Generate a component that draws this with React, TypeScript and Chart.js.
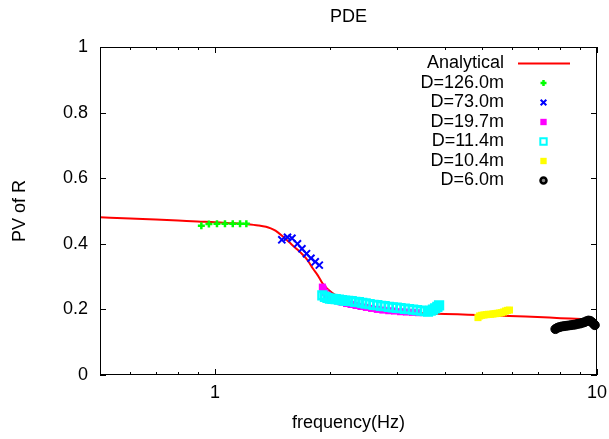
import React, { useEffect, useRef } from 'react';
import { Chart, registerables } from 'chart.js';

Chart.register(...registerables);

// ---------- data ----------
const chartTitle = 'PDE';
const xTitle = 'frequency(Hz)';
const yTitle = 'PV of R';

const xMajorTicks = [1, 10];
const xMinorTicks = [0.6, 0.7, 0.8, 0.9, 2, 3, 4, 5, 6, 7, 8, 9];

const analyticFreq = [0.5, 0.6, 0.7, 0.8, 0.9, 1.0, 1.1, 1.2, 1.3, 1.36, 1.4, 1.44, 1.5, 1.56, 1.63, 1.69, 1.73, 1.77, 1.8, 1.86, 1.91, 1.97, 2.03, 2.1, 2.2, 2.3, 2.45, 2.6, 2.8, 3.0, 3.4, 4.0, 4.6, 5.5, 6.5, 7.5, 8.5, 9.3, 10.0];
const analyticPV = [0.481, 0.477, 0.474, 0.471, 0.468, 0.466, 0.463, 0.46, 0.456, 0.452, 0.447, 0.44, 0.424, 0.406, 0.386, 0.369, 0.356, 0.34, 0.326, 0.303, 0.28, 0.262, 0.25, 0.24, 0.229, 0.22, 0.211, 0.205, 0.199, 0.195, 0.189, 0.186, 0.184, 0.181, 0.178, 0.175, 0.172, 0.17, 0.167];

const d126Freq = [0.921, 0.964, 1.012, 1.062, 1.113, 1.163, 1.208];
const d126PV = [0.455, 0.46, 0.461, 0.461, 0.461, 0.461, 0.461];

const d73Freq = [1.496, 1.548, 1.59, 1.644, 1.689, 1.736, 1.783, 1.83, 1.875];
const d73PV = [0.412, 0.42, 0.417, 0.4, 0.385, 0.37, 0.356, 0.345, 0.335];

const d197Freq = [1.91, 1.92, 1.94, 1.97, 2.01, 2.05, 2.1, 2.15, 2.21, 2.27, 2.34, 2.41, 2.49, 2.57, 2.66, 2.75, 2.85, 2.95, 3.06, 3.17, 3.29, 3.41];
const d197PV = [0.268, 0.262, 0.252, 0.243, 0.236, 0.231, 0.226, 0.222, 0.218, 0.215, 0.212, 0.209, 0.206, 0.203, 0.2, 0.198, 0.196, 0.195, 0.193, 0.192, 0.191, 0.19];

const d114Freq = [1.91, 1.94, 1.97, 2.0, 2.03, 2.07, 2.11, 2.15, 2.19, 2.23, 2.28, 2.33, 2.38, 2.43, 2.48, 2.54, 2.6, 2.66, 2.72, 2.78, 2.85, 2.92, 2.99, 3.06, 3.14, 3.22, 3.3, 3.38, 3.46, 3.54, 3.61, 3.67, 3.72, 3.77, 3.82, 3.86];
const d114PV = [0.243, 0.238, 0.235, 0.233, 0.232, 0.231, 0.23, 0.228, 0.227, 0.226, 0.225, 0.223, 0.222, 0.22, 0.218, 0.216, 0.214, 0.213, 0.211, 0.21, 0.208, 0.206, 0.205, 0.204, 0.202, 0.201, 0.199, 0.198, 0.196, 0.195, 0.193, 0.196, 0.199, 0.203, 0.208, 0.212];

const d104Freq = [4.88, 4.93, 4.99, 5.06, 5.13, 5.2, 5.27, 5.34, 5.41, 5.48, 5.55, 5.62, 5.69, 5.76, 5.83, 5.9];
const d104PV = [0.175, 0.18, 0.182, 0.183, 0.184, 0.185, 0.185, 0.186, 0.187, 0.188, 0.189, 0.19, 0.192, 0.195, 0.197, 0.198];

const d60Freq = [7.78, 7.88, 7.98, 8.09, 8.2, 8.31, 8.43, 8.55, 8.67, 8.79, 8.91, 9.03, 9.15, 9.27, 9.39, 9.5, 9.6, 9.7, 9.8, 9.87];
const d60PV = [0.14, 0.144, 0.146, 0.148, 0.149, 0.15, 0.151, 0.152, 0.153, 0.154, 0.156, 0.157, 0.159, 0.161, 0.164, 0.166, 0.165, 0.161, 0.156, 0.152];

const seriesLabels = ['Analytical', 'D=126.0m', 'D=73.0m', 'D=19.7m', 'D=11.4m', 'D=10.4m', 'D=6.0m'];

const FONT = '"Liberation Sans", Arial, sans-serif';

const zip = (xs: number[], ys: number[]) => xs.map((x, i) => ({ x, y: ys[i] }));

function drawMarker(ctx: CanvasRenderingContext2D, ds: any, x: number, y: number, r: number) {
  const style = ds.pointStyle;
  ctx.save();
  ctx.lineWidth = ds.borderWidth;
  ctx.strokeStyle = ds.borderColor;
  ctx.fillStyle = ds.backgroundColor;
  ctx.beginPath();
  if (style === 'cross') {
    ctx.moveTo(x - r, y); ctx.lineTo(x + r, y);
    ctx.moveTo(x, y - r); ctx.lineTo(x, y + r);
    ctx.stroke();
  } else if (style === 'crossRot') {
    const d = r * Math.SQRT1_2;
    ctx.moveTo(x - d, y - d); ctx.lineTo(x + d, y + d);
    ctx.moveTo(x + d, y - d); ctx.lineTo(x - d, y + d);
    ctx.stroke();
  } else if (style === 'rect') {
    const s = r * Math.SQRT1_2;
    ctx.rect(x - s, y - s, 2 * s, 2 * s);
    ctx.fill();
    if (ds.borderWidth) {
      ctx.lineWidth = 2;
      ctx.stroke();
    }
  } else if (style === 'circle') {
    ctx.arc(x, y, r, 0, Math.PI * 2);
    ctx.fillStyle = '#888';
    ctx.fill();
    ctx.lineWidth = 2.5;
    ctx.stroke();
  }
  ctx.restore();
}

const legendSizes = [0, 3, 4, 4.5, 4.5, 4.5, 3];

const framePlugin = {
  id: 'gnuFrame',
  afterDatasetsDraw(chart: any) {
    const { ctx, chartArea, scales } = chart;
    const { left, right, top, bottom } = chartArea;
    const x = scales.x;
    const y = scales.y;
    ctx.save();
    ctx.strokeStyle = '#000';
    ctx.lineWidth = 1;
    ctx.beginPath();
    const xt = (v: number, len: number) => {
      const px = Math.round(x.getPixelForValue(v)) + 0.5;
      ctx.moveTo(px, bottom); ctx.lineTo(px, bottom - len);
      ctx.moveTo(px, top); ctx.lineTo(px, top + len);
    };
    xMajorTicks.forEach((v) => xt(v, 6));
    xMinorTicks.forEach((v) => xt(v, 3));
    y.ticks.forEach((t: any) => {
      const py = Math.round(y.getPixelForValue(t.value)) + 0.5;
      ctx.moveTo(left, py); ctx.lineTo(left + 6, py);
      ctx.moveTo(right, py); ctx.lineTo(right - 6, py);
    });
    ctx.stroke();
    ctx.strokeRect(Math.round(left) + 0.5, Math.round(top) + 0.5, Math.round(right - left) - 1, Math.round(bottom - top) - 1);
    ctx.restore();
  },
  afterDraw(chart: any) {
    const { ctx, chartArea } = chart;
    const { right, top } = chartArea;
    const textRight = right - 93;
    const markX = right - 53.5;
    ctx.save();
    ctx.font = `18px ${FONT}`;
    ctx.textAlign = 'right';
    ctx.textBaseline = 'middle';
    chart.data.datasets.forEach((ds: any, i: number) => {
      const yy = top + 16.5 + i * 19.5;
      ctx.fillStyle = '#000';
      ctx.fillText(ds.label, textRight, yy);
      if (ds.showLine) {
        ctx.strokeStyle = ds.borderColor;
        ctx.lineWidth = 2;
        ctx.beginPath();
        ctx.moveTo(right - 79, yy);
        ctx.lineTo(right - 27, yy);
        ctx.stroke();
      } else {
        drawMarker(ctx, ds, markX, yy, legendSizes[i]);
      }
    });
    ctx.restore();
  },
};

export default function App() {
  const ref = useRef<HTMLCanvasElement | null>(null);

  useEffect(() => {
    if (!ref.current) return;
    Chart.defaults.font.family = FONT;
    Chart.defaults.font.size = 18;
    Chart.defaults.color = '#000';

    const chart = new Chart(ref.current, {
      type: 'scatter',
      data: {
        datasets: [
          {
            label: seriesLabels[0],
            data: zip(analyticFreq, analyticPV),
            showLine: true,
            borderColor: '#ff0000',
            backgroundColor: '#ff0000',
            borderWidth: 2,
            pointRadius: 0,
            cubicInterpolationMode: 'monotone',
            order: 6,
          },
          {
            label: seriesLabels[1],
            data: zip(d126Freq, d126PV),
            pointStyle: 'cross',
            pointRadius: 3.5,
            borderWidth: 2.5,
            borderColor: '#00ff00',
            backgroundColor: '#00ff00',
            order: 5,
          },
          {
            label: seriesLabels[2],
            data: zip(d73Freq, d73PV),
            pointStyle: 'crossRot',
            pointRadius: 5,
            borderWidth: 2,
            borderColor: '#0000ff',
            backgroundColor: '#0000ff',
            order: 4,
          },
          {
            label: seriesLabels[3],
            data: zip(d197Freq, d197PV),
            pointStyle: 'rect',
            pointRadius: 5,
            borderWidth: 0,
            borderColor: '#ff00ff',
            backgroundColor: '#ff00ff',
            order: 3,
          },
          {
            label: seriesLabels[4],
            data: zip(d114Freq, d114PV),
            pointStyle: 'rect',
            pointRadius: 5.5,
            borderWidth: 2.5,
            borderColor: '#00ffff',
            backgroundColor: 'rgba(0,0,0,0)',
            order: 2,
          },
          {
            label: seriesLabels[5],
            data: zip(d104Freq, d104PV),
            pointStyle: 'rect',
            pointRadius: 5,
            borderWidth: 0,
            borderColor: '#ffff00',
            backgroundColor: '#ffff00',
            order: 1,
          },
          {
            label: seriesLabels[6],
            data: zip(d60Freq, d60PV),
            pointStyle: 'circle',
            pointRadius: 4.5,
            borderWidth: 1,
            borderColor: '#000000',
            backgroundColor: '#000000',
            order: 0,
          },
        ] as any,
      },
      options: {
        animation: false,
        responsive: false,
        devicePixelRatio: 1,
        layout: { padding: { left: 0, right: 12, top: 0, bottom: 0 } },
        datasets: { scatter: { clip: false } } as any,
        plugins: {
          legend: { display: false },
          tooltip: { enabled: false },
          title: {
            display: true,
            text: chartTitle,
            fullSize: false,
            color: '#000',
            font: { size: 18, weight: 'normal', family: FONT },
            padding: { top: 6, bottom: 19.4 },
          } as any,
        },
        scales: {
          x: {
            type: 'logarithmic',
            min: 0.5,
            max: 10,
            grid: { display: false, drawTicks: false },
            border: { display: false },
            afterBuildTicks: (s: any) => {
              s.ticks = xMajorTicks.map((v) => ({ value: v }));
            },
            afterFit: (s: any) => {
              s.height = 64;
              s.paddingLeft = 0;
              s.paddingRight = 0;
            },
            ticks: {
              padding: 7,
              autoSkip: false,
              maxRotation: 0,
              callback: (v: any) => String(v),
              font: { size: 18, family: FONT },
            },
            title: {
              display: true,
              text: xTitle,
              font: { size: 18, family: FONT },
              padding: { top: 0, bottom: 5 },
            },
          },
          y: {
            min: 0,
            max: 1,
            grid: { display: false, drawTicks: false },
            border: { display: false },
            afterFit: (s: any) => {
              s.width = 100;
              s.paddingTop = 0;
              s.paddingBottom = 0;
            },
            ticks: {
              stepSize: 0.2,
              padding: 12,
              callback: (v: any) => String(Number(Number(v).toFixed(1))),
              font: { size: 18, family: FONT },
            },
            title: {
              display: true,
              text: yTitle,
              font: { size: 18, family: FONT },
              padding: { top: 9, bottom: 0 },
            },
          },
        },
      } as any,
      plugins: [framePlugin],
    });
    return () => chart.destroy();
  }, []);

  return (
    <div style={{ position: 'absolute', left: 0, top: 0, width: 609, height: 439, background: '#fff' }}>
      <canvas ref={ref} width={609} height={439} style={{ display: 'block', width: 609, height: 439 }} />
    </div>
  );
}
